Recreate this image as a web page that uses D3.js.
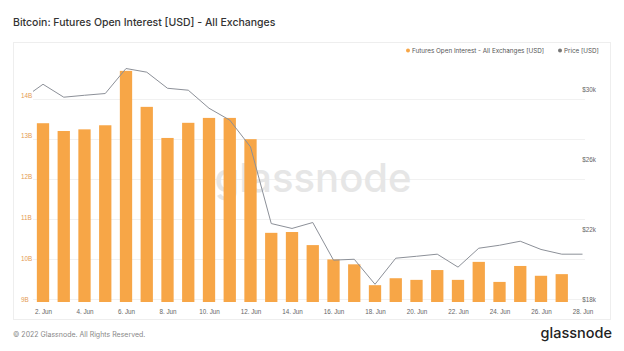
<!DOCTYPE html>
<html>
<head>
<meta charset="utf-8">
<script src="https://cdn.jsdelivr.net/npm/d3@7/dist/d3.min.js"></script>
<style>
  body { margin: 0; background: #fff; }
  svg { font-family: Inter, "Noto Sans", sans-serif; display: block; }
</style>
</head>
<body>
<div id="chart"></div>
<script>
// open interest, billions USD (bars)
const oiDates = ["2022-06-02","2022-06-03","2022-06-04","2022-06-05","2022-06-06","2022-06-07","2022-06-08",
  "2022-06-09","2022-06-10","2022-06-11","2022-06-12","2022-06-13","2022-06-14","2022-06-15","2022-06-16",
  "2022-06-17","2022-06-18","2022-06-19","2022-06-20","2022-06-21","2022-06-22","2022-06-23","2022-06-24",
  "2022-06-25","2022-06-26","2022-06-27"];
const oiValues = [13.31, 13.12, 13.16, 13.26, 14.59, 13.71, 12.95, 13.32, 13.44, 13.44, 12.92, 10.63, 10.65,
  10.33, 9.98, 9.86, 9.35, 9.52, 9.48, 9.72, 9.48, 9.92, 9.43, 9.82, 9.58, 9.62];

// BTC price, thousands USD (line)
const priceDates = ["2022-06-01","2022-06-02","2022-06-03","2022-06-04","2022-06-05","2022-06-06","2022-06-07",
  "2022-06-08","2022-06-09","2022-06-10","2022-06-11","2022-06-12","2022-06-13","2022-06-14","2022-06-15",
  "2022-06-16","2022-06-17","2022-06-18","2022-06-19","2022-06-20","2022-06-21","2022-06-22","2022-06-23",
  "2022-06-24","2022-06-25","2022-06-26","2022-06-27","2022-06-28"];
const priceValues = [29.45, 30.30, 29.56, 29.67, 29.77, 31.20, 30.99, 30.07, 29.96, 28.93, 28.25, 26.72, 22.34,
  22.06, 22.40, 20.25, 20.30, 18.87, 20.36, 20.47, 20.59, 19.85, 20.93, 21.10, 21.33, 20.86, 20.59, 20.59];

const xTicks = ["2022-06-02","2022-06-04","2022-06-06","2022-06-08","2022-06-10","2022-06-12","2022-06-14",
  "2022-06-16","2022-06-18","2022-06-20","2022-06-22","2022-06-24","2022-06-26","2022-06-28"];
const leftTicks = [9, 10, 11, 12, 13, 14];
const rightTicks = [18, 22, 26, 30];

const width = 624, height = 351;
const plotLeft = 33, plotRight = 585, plotTop = 60, plotBottom = 302;
const parse = d3.utcParse("%Y-%m-%d");

const svg = d3.select("#chart").append("svg")
    .attr("width", width)
    .attr("height", height)
    .attr("viewBox", [0, 0, width, height]);

// title
svg.append("text")
    .attr("x", 13).attr("y", 26)
    .attr("fill", "#333")
    .attr("font-size", 10.5)
    .attr("font-weight", 500)
    .text("Bitcoin: Futures Open Interest [USD] - All Exchanges");

// card
svg.append("rect")
    .attr("x", 13.5).attr("y", 42.5)
    .attr("width", 597).attr("height", 277)
    .attr("fill", "#fff")
    .attr("stroke", "#eeeeee");

const x = d3.scaleUtc()
    .domain([parse("2022-06-02"), parse("2022-06-28")])
    .range([43, 582.5]);
const yL = d3.scaleLinear().domain([9, 14]).range([299.5, 95]);
const yR = d3.scaleLinear().domain([18, 30]).range([299.5, 89.5]);
const grid = d3.scaleLinear().domain([0, 5]).range([299.5, 99.5]);

// gridlines
svg.append("g")
  .selectAll("line")
  .data(grid.ticks(5))
  .join("line")
    .attr("x1", plotLeft).attr("x2", plotRight)
    .attr("y1", d => grid(d)).attr("y2", d => grid(d))
    .attr("stroke", "#f1f1f1");

// watermark
svg.append("text")
    .attr("x", 313).attr("y", 192)
    .attr("text-anchor", "middle")
    .attr("fill", "#e6e6e6")
    .attr("font-size", 40)
    .attr("font-weight", 500)
    .text("glassnode");

svg.append("clipPath").attr("id", "plot-clip")
  .append("rect")
    .attr("x", plotLeft).attr("y", plotTop)
    .attr("width", plotRight - plotLeft).attr("height", plotBottom - plotTop);

// bars
const barW = 12.3;
svg.append("g")
  .selectAll("rect")
  .data(oiValues)
  .join("rect")
    .attr("x", (d, i) => x(parse(oiDates[i])) - barW / 2)
    .attr("y", d => yL(d))
    .attr("width", barW)
    .attr("height", d => plotBottom - yL(d))
    .attr("fill", "#f7a647");

// price line
const line = d3.line()
    .x((d, i) => x(parse(priceDates[i])))
    .y(d => yR(d));

svg.append("path")
    .attr("clip-path", "url(#plot-clip)")
    .attr("fill", "none")
    .attr("stroke", "#8c9098")
    .attr("stroke-width", 1)
    .attr("stroke-linejoin", "round")
    .attr("d", line(priceValues));

// left axis
svg.append("g")
    .attr("transform", "translate(21,0)")
    .call(d3.axisLeft(yL).tickValues(leftTicks).tickSize(0).tickFormat(d => d + "B"))
    .call(g => g.select(".domain").remove())
    .call(g => g.selectAll("text")
        .attr("x", 0)
        .attr("text-anchor", "start")
        .attr("fill", "#e49a52")
        .attr("font-family", null)
        .attr("font-size", 6.3));

// right axis
svg.append("g")
    .attr("transform", "translate(596,0)")
    .call(d3.axisRight(yR).tickValues(rightTicks).tickSize(0).tickFormat(d => "$" + d + "k"))
    .call(g => g.select(".domain").remove())
    .call(g => g.selectAll("text")
        .attr("x", 0)
        .attr("text-anchor", "end")
        .attr("fill", "#666")
        .attr("font-family", null)
        .attr("font-size", 6.3));

// x axis
svg.append("g")
    .attr("transform", `translate(0,${plotBottom})`)
    .call(d3.axisBottom(x).tickValues(xTicks.map(parse)).tickSize(0).tickFormat(d3.utcFormat("%-d. %b")))
    .call(g => g.select(".domain").remove())
    .call(g => g.selectAll("text")
        .attr("y", 8)
        .attr("fill", "#666")
        .attr("font-family", null)
        .attr("font-size", 6.3));

// legend
const legend = svg.append("g").attr("font-size", 6.3).attr("fill", "#555");
legend.append("circle").attr("cx", 408).attr("cy", 50.5).attr("r", 2).attr("fill", "#f7a647");
legend.append("text").attr("x", 412).attr("y", 52.8).text("Futures Open Interest - All Exchanges [USD]");
legend.append("circle").attr("cx", 560).attr("cy", 50.5).attr("r", 2).attr("fill", "#777");
legend.append("text").attr("x", 564).attr("y", 52.8).text("Price [USD]");

// footer
svg.append("text")
    .attr("x", 13).attr("y", 337)
    .attr("fill", "#888")
    .attr("font-size", 7)
    .text("© 2022 Glassnode. All Rights Reserved.");

svg.append("text")
    .attr("x", 612).attr("y", 338)
    .attr("text-anchor", "end")
    .attr("fill", "#222")
    .attr("font-size", 14.5)
    .attr("font-weight", 500)
    .text("glassnode");
</script>
</body>
</html>
